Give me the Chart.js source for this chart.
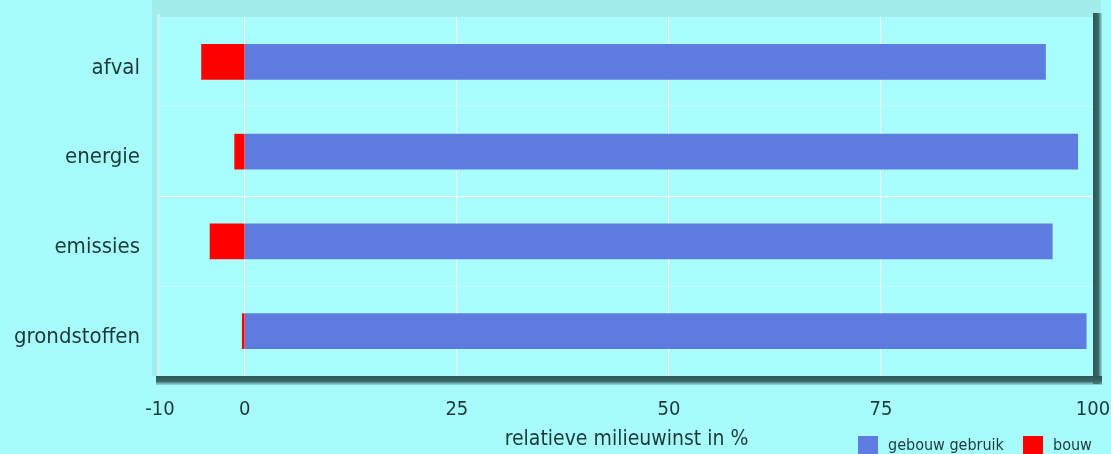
<!DOCTYPE html>
<html>
<head>
<meta charset="utf-8">
<script src="https://cdn.jsdelivr.net/npm/chart.js@4"></script>
<style>
  html,body{margin:0;padding:0;background:#a8fbfb;}
  #wrap{width:1111px;height:454px;position:relative;}
</style>
</head>
<body>
<div id="wrap"><canvas id="c" width="1111" height="454"></canvas></div>
<script>
const categories = ['afval', 'energie', 'emissies', 'grondstoffen'];
const gebouwGebruik = [94.4, 98.2, 95.2, 99.2];
const bouw = [-5.1, -1.2, -4.1, -0.3];
const xTicks = [-10, 0, 25, 50, 75, 100];
const xTitle = 'relatieve milieuwinst in %';
const seriesNames = ['gebouw gebruik', 'bouw'];

const FONT = "'DejaVu Sans Condensed', 'DejaVu Sans', sans-serif";
const TXT = '#1c3a3a';

function zeroPad(s) { s.paddingLeft = 0; s.paddingRight = 0; s.paddingTop = 0; s.paddingBottom = 0; }

const framePlugin = {
  id: 'frame',
  beforeDraw(chart) {
    const {ctx, chartArea: a} = chart;
    ctx.save();
    ctx.fillStyle = '#a3ecec';
    ctx.fillRect(a.left - 8, 0, a.right - a.left + 16, a.top);
    ctx.fillRect(a.left - 8, a.top, 8, a.bottom - a.top);
    ctx.fillStyle = '#c4f4f4';
    ctx.fillRect(a.left - 3, a.top - 3, 3, a.bottom - a.top + 3);
    ctx.fillStyle = '#aafdfd';
    ctx.fillRect(a.left, a.top, a.right - a.left, a.bottom - a.top);
    const g1 = ctx.createLinearGradient(a.right, 0, a.right + 9, 0);
    g1.addColorStop(0, '#2d5656'); g1.addColorStop(0.6, '#3c6868'); g1.addColorStop(1, 'rgba(80,150,150,0.3)');
    ctx.fillStyle = g1;
    ctx.fillRect(a.right, a.top - 4, 9, a.bottom - a.top + 12);
    const g2 = ctx.createLinearGradient(0, a.bottom, 0, a.bottom + 9);
    g2.addColorStop(0, '#2d5656'); g2.addColorStop(0.6, '#3c6868'); g2.addColorStop(1, 'rgba(80,150,150,0.3)');
    ctx.fillStyle = g2;
    ctx.fillRect(a.left - 4, a.bottom, a.right - a.left + 13, 9);
    ctx.restore();
  },
  afterDraw(chart) {
    const {ctx} = chart;
    ctx.save();
    ctx.font = '16px ' + FONT;
    ctx.textBaseline = 'middle';
    const items = [
      {x: 858, label: seriesNames[0], color: chart.data.datasets[0].backgroundColor},
      {x: 1023, label: seriesNames[1], color: chart.data.datasets[1].backgroundColor}
    ];
    items.forEach(it => {
      ctx.fillStyle = it.color;
      ctx.fillRect(it.x, 436, 20, 18);
      ctx.fillStyle = TXT;
      ctx.fillText(it.label, it.x + 30, 446);
    });
    ctx.restore();
  }
};

new Chart(document.getElementById('c'), {
  type: 'bar',
  data: {
    labels: categories,
    datasets: [
      {label: seriesNames[0], data: gebouwGebruik, backgroundColor: '#5e7cdf', barThickness: 35, stack: 's'},
      {label: seriesNames[1], data: bouw, backgroundColor: '#ff0000', barThickness: 35, stack: 's'}
    ]
  },
  options: {
    indexAxis: 'y',
    responsive: false,
    animation: false,
    layout: {padding: {top: 17, right: 18, bottom: 2, left: 0}},
    plugins: {legend: {display: false}, tooltip: {enabled: false}},
    scales: {
      x: {
        type: 'linear', stacked: true, min: -10, max: 100,
        afterBuildTicks(s) { s.ticks = xTicks.map(v => ({value: v})); },
        afterFit(s) { s.height = 76; zeroPad(s); },
        grid: {
          drawTicks: false,
          color: c => (c.tick && (c.tick.value === -10 || c.tick.value === 100)) ? 'rgba(0,0,0,0)' : 'rgba(255,255,255,0.85)',
          lineWidth: 1
        },
        border: {display: false},
        ticks: {padding: 22, color: TXT, font: {family: FONT, size: 20}},
        title: {display: true, text: xTitle, color: TXT, font: {family: FONT, size: 21}, padding: {top: 0, bottom: 0}}
      },
      y: {
        stacked: true,
        afterFit(s) { s.width = 160; zeroPad(s); },
        grid: {
          drawTicks: false,
          offset: true,
          color: c => c.index === 2 ? 'rgba(255,255,255,0.9)' : (c.index === 1 || c.index === 3 ? 'rgba(255,255,255,0.25)' : 'rgba(0,0,0,0)'),
          lineWidth: 1
        },
        border: {display: false},
        ticks: {padding: 20, labelOffset: 6, color: TXT, font: {family: FONT, size: 22}}
      }
    }
  },
  plugins: [framePlugin]
});
</script>
</body>
</html>
